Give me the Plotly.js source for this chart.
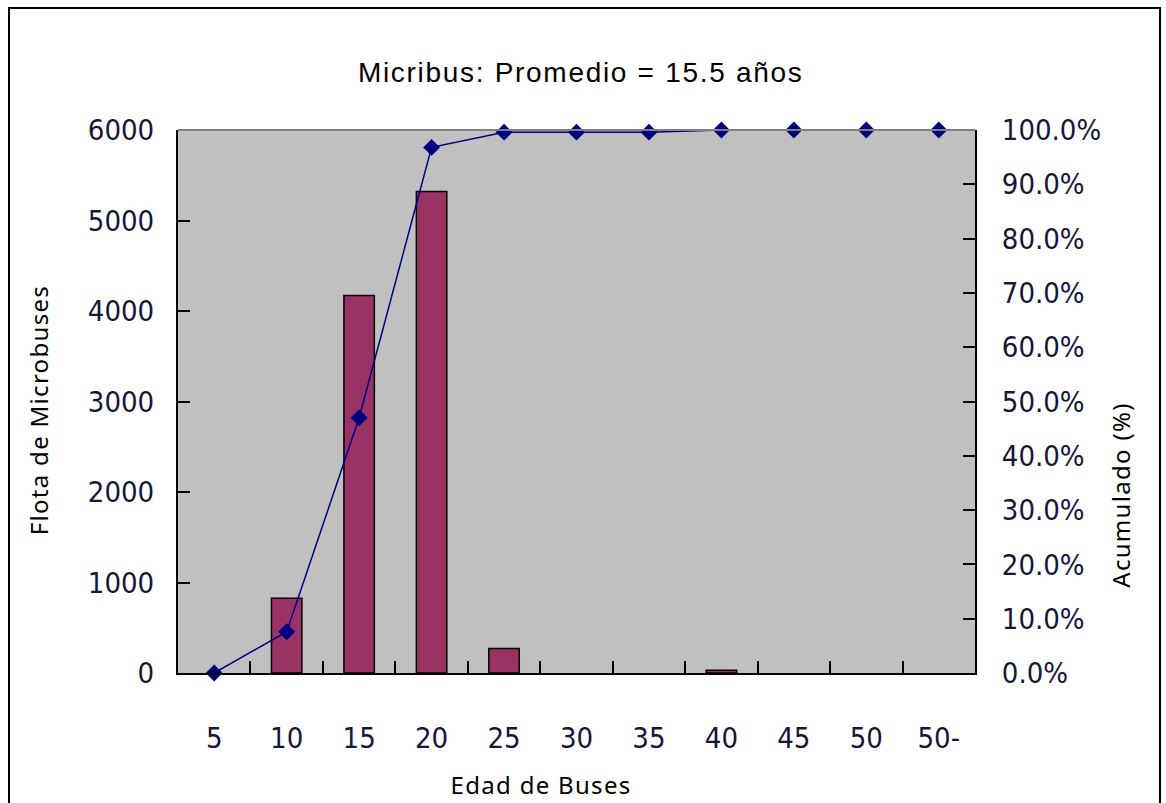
<!DOCTYPE html>
<html>
<head>
<meta charset="utf-8">
<script src="https://cdn.plot.ly/plotly-3.0.1.min.js"></script>
<style>
  html, body { margin: 0; padding: 0; background: #ffffff; }
  #chart { width: 1166px; height: 803px; }
  #frame {
    position: absolute; left: 8px; top: 7px; width: 1153px; height: 810px;
    border: 2px solid #000; box-sizing: border-box; pointer-events: none;
  }
  /* slightly open tracking for the titles */
  #chart .gtitle { letter-spacing: 1.7px; }
  #chart .annotation-text { letter-spacing: 1.3px; }
</style>
</head>
<body>
<div id="chart"></div>
<div id="frame"></div>
<script>
// Age groups (years) of the microbus fleet
const edades = ['5', '10', '15', '20', '25', '30', '35', '40', '45', '50', '50-'];
// Number of microbuses in each age group
const flota = [0, 825, 4170, 5320, 270, 0, 0, 30, 0, 0, 0];
// Cumulative share of the fleet (fraction)
const acumulado = [0, 0.076, 0.470, 0.968, 0.996, 0.996, 0.996, 1.0, 1.0, 1.0, 1.0];

const tickFont = { family: '"DejaVu Sans Condensed", "Liberation Sans", sans-serif', size: 29, color: '#16163a' };
const titleFont = { family: '"Noto Sans", "Open Sans", sans-serif', size: 24, color: '#000' };

const barras = {
  type: 'bar',
  x: edades,
  y: flota,
  width: 0.42,
  marker: {
    color: '#993366',
    // empty groups get no outline so nothing is drawn on the baseline
    line: { color: '#000000', width: flota.map(v => (v > 0 ? 1.5 : 0)) }
  },
  hoverinfo: 'x+y'
};

const linea = {
  type: 'scatter',
  mode: 'lines+markers',
  x: edades,
  y: acumulado,
  yaxis: 'y2',
  cliponaxis: false,
  line: { color: '#000080', width: 1.5 },
  marker: { symbol: 'diamond', size: 13, color: '#000080' }
};

const layout = {
  width: 1166,
  height: 803,
  margin: { l: 178, r: 191, t: 130, b: 130 },
  paper_bgcolor: '#ffffff',
  plot_bgcolor: '#c0c0c0',
  showlegend: false,
  title: {
    text: 'Micribus: Promedio = 15.5 años',
    font: { family: '"Liberation Sans", Arial, sans-serif', size: 28, color: '#000' },
    x: 0.498, xanchor: 'center',
    y: 0.91, yanchor: 'middle'
  },
  xaxis: {
    type: 'category',
    range: [-0.5, edades.length - 0.5],
    showgrid: false,
    showline: true, linecolor: '#000', linewidth: 2,
    ticks: 'inside', tickson: 'boundaries', ticklen: 12, tickwidth: 2, tickcolor: '#000',
    tickfont: tickFont,
    ticklabelstandoff: 38,
    zeroline: false
  },
  yaxis: {
    range: [0, 6000],
    dtick: 1000,
    showgrid: false,
    showline: true, linecolor: '#000', linewidth: 2,
    ticks: 'inside', ticklen: 12, tickwidth: 2, tickcolor: '#000',
    tickfont: tickFont,
    ticklabelstandoff: 16,
    zeroline: false
  },
  yaxis2: {
    overlaying: 'y',
    side: 'right',
    range: [0, 1],
    dtick: 0.1,
    tickformat: '.1%',
    showgrid: false,
    showline: true, linecolor: '#000', linewidth: 2,
    ticks: 'inside', ticklen: 12, tickwidth: 2, tickcolor: '#000',
    tickfont: tickFont,
    ticklabelstandoff: 19,
    zeroline: false
  },
  shapes: [
    { type: 'line', xref: 'paper', yref: 'paper', x0: 0, x1: 1, y0: 1, y1: 1,
      line: { color: '#808080', width: 2 } }
  ],
  annotations: [
    { text: 'Flota de Microbuses', textangle: -90, showarrow: false,
      xref: 'paper', yref: 'paper', x: -0.176, y: 0.484,
      xanchor: 'center', yanchor: 'middle', font: titleFont },
    { text: 'Acumulado (%)', textangle: -90, showarrow: false,
      xref: 'paper', yref: 'paper', x: 1.183, y: 0.327,
      xanchor: 'center', yanchor: 'middle', font: titleFont },
    { text: 'Edad de Buses', showarrow: false,
      xref: 'paper', yref: 'paper', x: 0.455, y: -0.205,
      xanchor: 'center', yanchor: 'middle', font: titleFont }
  ]
};

Plotly.newPlot('chart', [barras, linea], layout, { displayModeBar: false, staticPlot: true });
</script>
</body>
</html>
